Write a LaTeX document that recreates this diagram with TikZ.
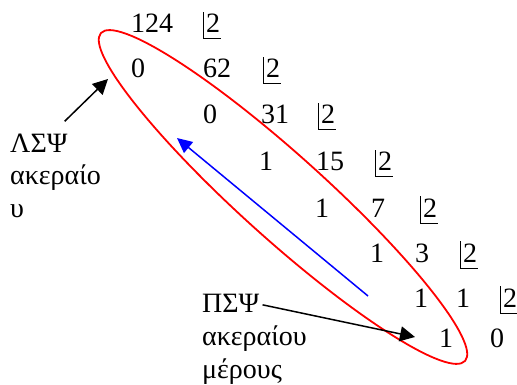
\documentclass[tikz,border=0pt]{standalone}
\usepackage{fontspec}
\setmainfont{Liberation Serif}
\usetikzlibrary{arrows.meta}
\newcommand{\divtwo}[3]{%
  \node[dig] (#1) at (#2,#3) {2};
  \draw[bar] ([xshift=-2pt,yshift=2pt]#1.north west) |- ([xshift=1pt,yshift=-6pt]#1.base east);}
\begin{document}
\begin{tikzpicture}[x=1pt,y=-1pt,
  dig/.style={inner sep=0pt, anchor=base, font=\fontsize{28}{33}\selectfont},
  lab/.style={inner sep=0pt, anchor=base west, font=\fontsize{28}{33}\selectfont},
  bar/.style={line width=1pt},
  pointer/.style={line width=1.5pt, -{Triangle[length=15pt,width=15pt]}},
  ring/.style={red, line width=1.8pt},
  back/.style={blue, line width=1.5pt, -{Triangle[length=15pt,width=14pt]}}]
\useasboundingbox (0,0) rectangle (517,385);

% division rows
\node[dig] (n124) at (152,33) {124}; \divtwo{d1}{213}{33}
\node[dig] (r2) at (138,78) {0}; \node[dig] (n62) at (217,78) {62}; \divtwo{d2}{273}{78}
\node[dig] (r3) at (210,124) {0}; \node[dig] (n31) at (275,124) {31}; \divtwo{d3}{328}{124}
\node[dig] (r4) at (266,171) {1}; \node[dig] (n15) at (330,171) {15}; \divtwo{d4}{385}{171}
\node[dig] (r5) at (322,217) {1}; \node[dig] (n7) at (378,217) {7}; \divtwo{d5}{430}{217}
\node[dig] (r6) at (377,262) {1}; \node[dig] (n3) at (422,262) {3}; \divtwo{d6}{470}{262}
\node[dig] (r7) at (421,307) {1}; \node[dig] (n1) at (463,307) {1}; \divtwo{d7}{510}{307}
\node[dig] (r8) at (446,347) {1}; \node[dig] (n0) at (497,347) {0};

% labels
\node[lab] (l1) at (10,153) {ΛΣΨ};
\node[lab] (l2) at (10,185) {ακεραίο};
\node[lab] (l3) at (10,217) {υ};
\node[lab] (p1) at (202,312) {ΠΣΨ};
\node[lab] (p2) at (202,345) {ακεραίου};
\node[lab] (p3) at (202,378) {μέρους};

% red ellipse around remainders
\coordinate (oc) at (283,197);
\draw[ring, rotate around={-42:(oc)}] (oc) ellipse [x radius=245pt, y radius=42pt];

% blue reading-direction arrow
\coordinate (bs) at (368,296);
\coordinate (be) at (177,138);
\draw[back] (bs) -- (be);

% pointers
\coordinate (t1) at (108,79);
\draw[pointer] ([xshift=-3pt,yshift=13pt]l1.north east) -- (t1);
\coordinate (t2) at (415,337);
\draw[pointer] ([xshift=3pt,yshift=-2pt]p1.east) -- (t2);
\end{tikzpicture}
\end{document}
